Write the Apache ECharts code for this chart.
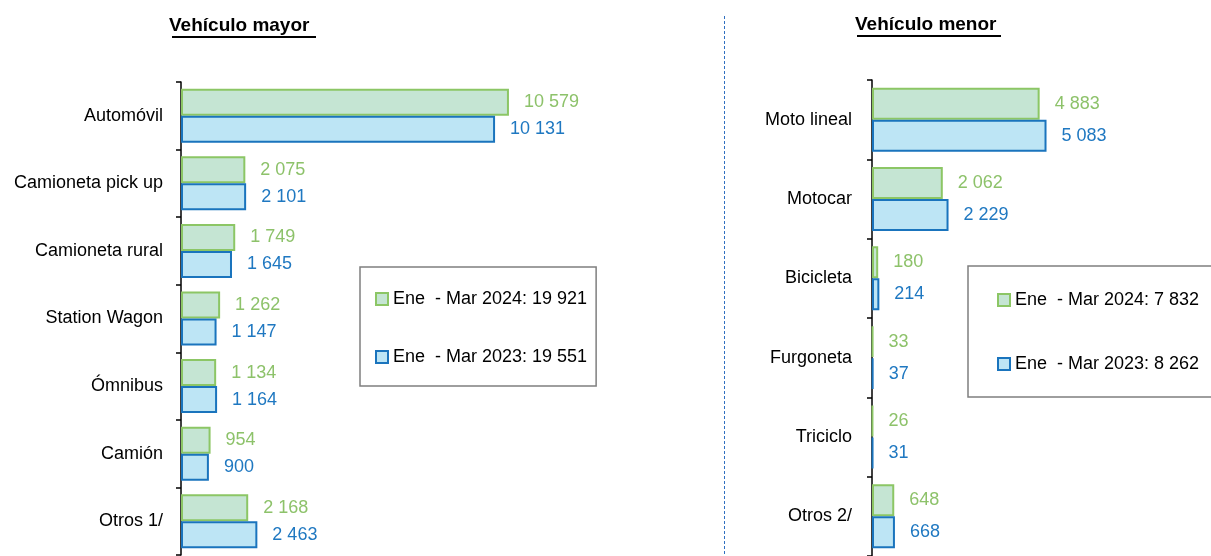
<!DOCTYPE html>
<html>
<head>
<meta charset="utf-8">
<script src="https://cdn.jsdelivr.net/npm/echarts@6/dist/echarts.min.js"></script>
<style>
  html, body { margin: 0; padding: 0; background: #fff; }
  #chart { width: 1211px; height: 556px; }
</style>
</head>
<body>
<div id="chart"></div>
<script>
// datos
const catMayor = ['Automóvil', 'Camioneta pick up', 'Camioneta rural', 'Station Wagon', 'Ómnibus', 'Camión', 'Otros 1/'];
const mayor2024 = [10579, 2075, 1749, 1262, 1134, 954, 2168];
const mayor2023 = [10131, 2101, 1645, 1147, 1164, 900, 2463];

const catMenor = ['Moto lineal', 'Motocar', 'Bicicleta', 'Furgoneta', 'Triciclo', 'Otros 2/'];
const menor2024 = [4883, 2062, 180, 33, 26, 648];
const menor2023 = [5083, 2229, 214, 37, 31, 668];

const s2024 = 'Ene  - Mar 2024';
const s2023 = 'Ene  - Mar 2023';

const FONT = "'Liberation Sans Narrow', 'Arial Narrow', 'Liberation Sans', sans-serif";
const verde = { fill: '#c5e5d3', border: '#8cc665', text: '#8dc26a' };
const azul = { fill: '#bde5f5', border: '#1a74bd', text: '#1f78c1' };

function fmt(n) {
  return String(n).replace(/\B(?=(\d{3})+(?!\d))/g, ' ');
}
function suma(arr) {
  return arr.reduce((a, b) => a + b, 0);
}

let myChart = echarts.init(document.getElementById('chart'));

function barra(name, data, col, idx, width) {
  return {
    name: name,
    type: 'bar',
    xAxisIndex: idx,
    yAxisIndex: idx,
    data: data,
    barWidth: width,
    barGap: '0%',
    animation: false,
    itemStyle: { color: col.fill, borderColor: col.border, borderWidth: 2 },
    label: {
      show: true,
      position: 'right',
      distance: 15,
      color: col.text,
      fontSize: 18,
      fontFamily: FONT,
      formatter: p => fmt(p.value)
    }
  };
}

function ejeY(cats, idx, margin) {
  return {
    type: 'category',
    gridIndex: idx,
    data: cats,
    inverse: true,
    axisLine: { lineStyle: { color: '#000', width: 1.5 } },
    axisTick: { show: true, length: 5, lineStyle: { color: '#000', width: 1.5 } },
    axisLabel: { color: '#000', fontSize: 18, fontFamily: FONT, margin: margin }
  };
}

function ejeX(max, idx) {
  return {
    type: 'value',
    gridIndex: idx,
    min: 0,
    max: max,
    show: false,
    splitLine: { show: false }
  };
}

function leyenda(pos, total24, total23, gap, pad) {
  return Object.assign({
    orient: 'vertical',
    data: [s2024, s2023],
    icon: 'rect',
    itemWidth: 12,
    itemHeight: 12,
    itemGap: gap,
    padding: pad,
    borderColor: '#7f7f7f',
    borderWidth: 1.5,
    selectedMode: false,
    textStyle: { color: '#000', fontSize: 18, fontFamily: FONT },
    formatter: name => name + ': ' + fmt(name === s2024 ? total24 : total23)
  }, pos);
}

let option = {
  backgroundColor: '#fff',
  animation: false,
  title: [
    { text: 'Vehículo mayor', left: 169, top: 16, padding: 0, textStyle: { fontSize: 19, fontWeight: 'bold', color: '#000', fontFamily: FONT } },
    { text: 'Vehículo menor', left: 855, top: 15, padding: 0, textStyle: { fontSize: 19, fontWeight: 'bold', color: '#000', fontFamily: FONT } }
  ],
  grid: [
    { left: 181, top: 82, width: 372, height: 473 },
    { left: 872, top: 80, width: 206, height: 477 }
  ],
  xAxis: [ejeX(12000, 0), ejeX(6000, 1)],
  yAxis: [ejeY(catMayor, 0, 18), ejeY(catMenor, 1, 20)],
  legend: [
    leyenda({ left: 360, top: 267 }, suma(mayor2024), suma(mayor2023), 40, [23, 9, 20, 15]),
    leyenda({ left: 968, top: 266 }, suma(menor2024), suma(menor2023), 46, [25, 60, 24, 29])
  ],
  series: [
    barra(s2024, mayor2024, verde, 0, 27),
    barra(s2023, mayor2023, azul, 0, 27),
    barra(s2024, menor2024, verde, 1, 32),
    barra(s2023, menor2023, azul, 1, 32)
  ],
  graphic: [
    { type: 'line', shape: { x1: 172, y1: 37, x2: 316, y2: 37 }, style: { stroke: '#000', lineWidth: 2 } },
    { type: 'line', shape: { x1: 857, y1: 36, x2: 1001, y2: 36 }, style: { stroke: '#000', lineWidth: 2 } },
    { type: 'line', shape: { x1: 724.5, y1: 16, x2: 724.5, y2: 556 }, style: { stroke: '#2f6fc0', lineWidth: 1, lineDash: [3, 2] } }
  ]
};

myChart.setOption(option);
</script>
</body>
</html>
